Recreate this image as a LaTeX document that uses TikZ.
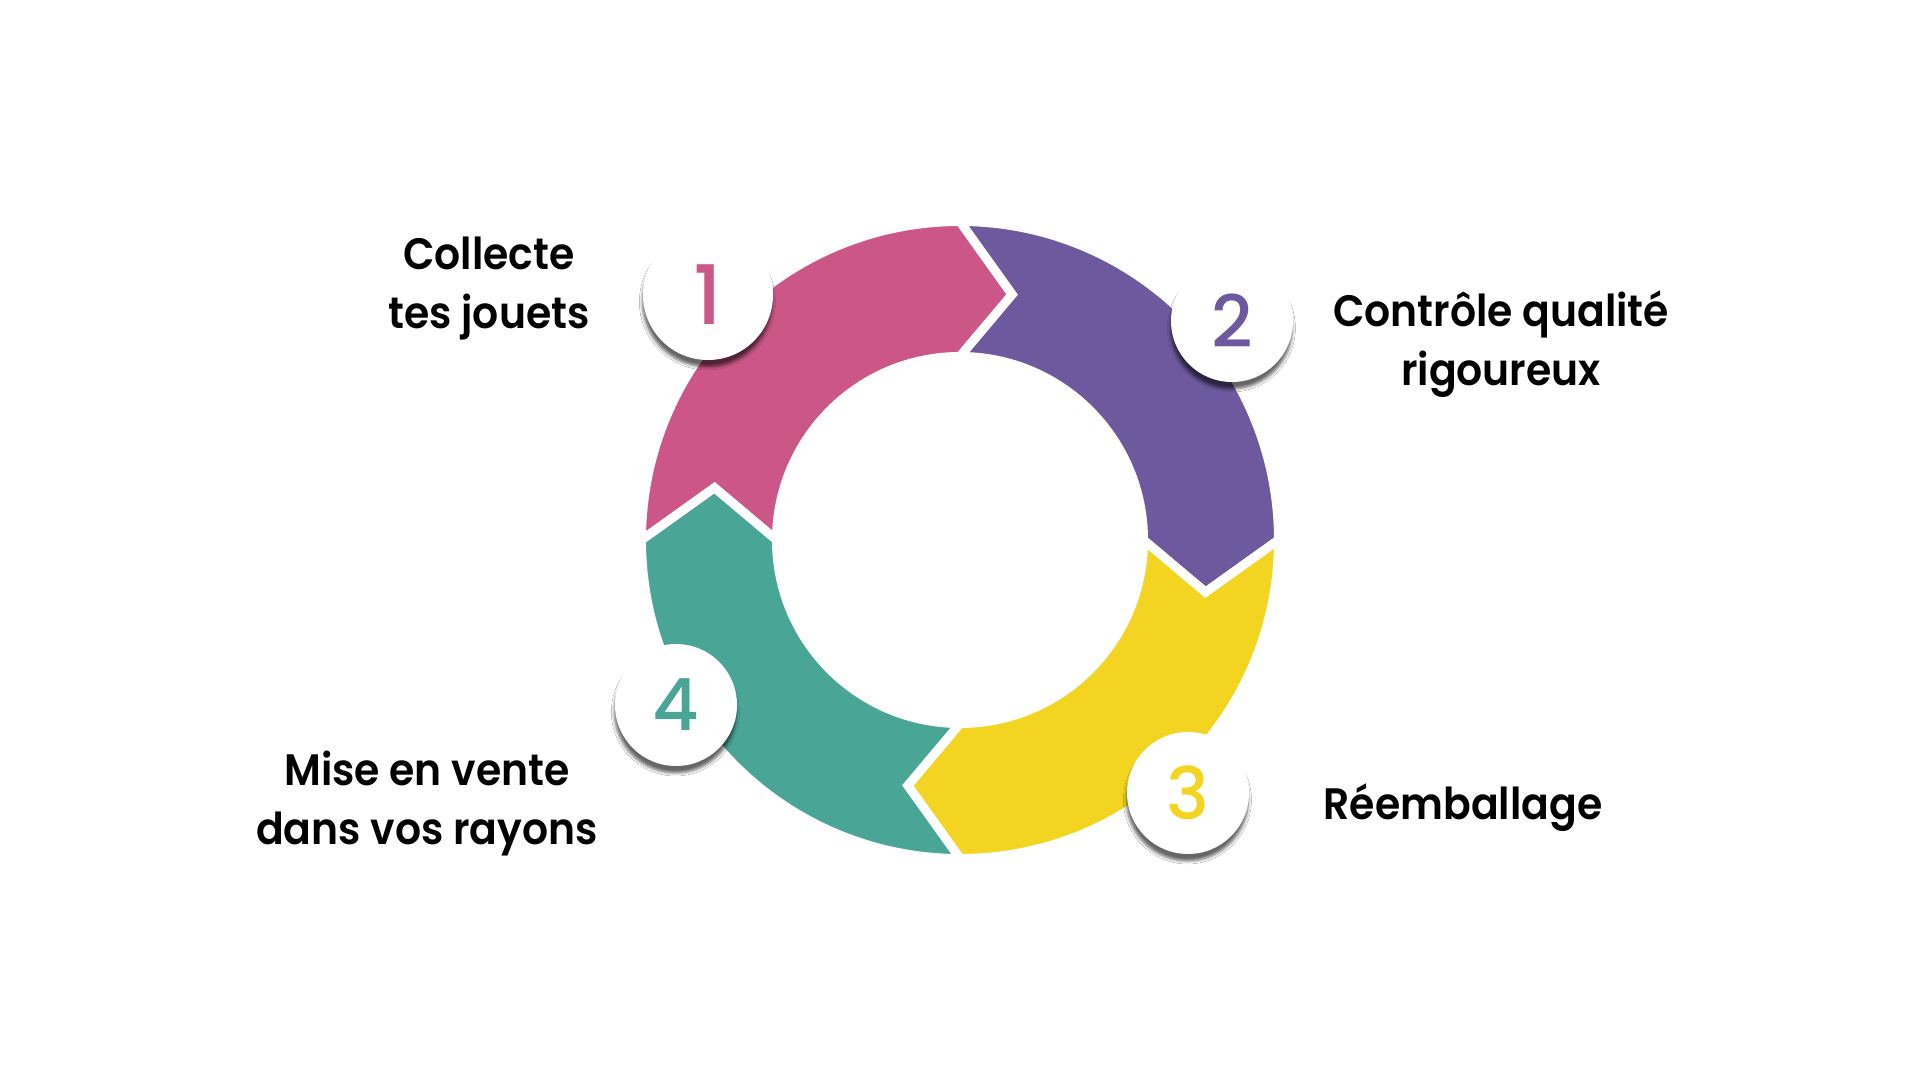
\documentclass[tikz,border=0pt]{standalone}
\usepackage{fontspec}
\setmainfont{Poppins}
\newfontfamily\labfont{Poppins}[UprightFont=* SemiBold, FakeStretch=0.93]
\newfontfamily\numfont{Poppins}[UprightFont=* Medium]
\usetikzlibrary{shadows.blur}
\definecolor{cpink}{RGB}{204,86,135}
\definecolor{cpurple}{RGB}{110,89,158}
\definecolor{cyellow}{RGB}{243,212,32}
\definecolor{cteal}{RGB}{73,166,151}
\tikzset{
  seg/.style={draw=white, line width=4.5pt, line join=miter},
  lab/.style={font=\labfont\fontsize{22pt}{26pt}\selectfont, anchor=base, text=black, inner sep=0pt},
  badge/.style={circle, fill=white, inner sep=0pt,
    blur shadow={shadow xshift=-0.3pt, shadow yshift=-3.5pt, shadow blur radius=1.5pt, shadow opacity=60}},
  bignum/.style={font=\numfont\fontsize{41pt}{41pt}\selectfont},
  smallnum/.style={font=\numfont\fontsize{36pt}{36pt}\selectfont}
}
\begin{document}
\begin{tikzpicture}[x=0.5pt,y=0.5pt]
\fill[white] (-960,-540) rectangle (960,540);
\useasboundingbox (-960,-540) rectangle (960,540);
% ring segments
\foreach \s/\c in {180/cpink, 90/cpurple, 0/cyellow, -90/cteal}{
  \filldraw[seg, fill=\c] (\s:318.5) arc[start angle=\s, end angle={\s-90}, radius=318.5]
     -- ({\s-102}:251) -- ({\s-90}:183.5)
     arc[start angle={\s-90}, end angle=\s, radius=183.5]
     -- ({\s-12}:251) -- cycle;
}
% badges
\node[badge, minimum size=65pt, bignum, text=cpink] (b1) at (-252,245) {1};
\node[badge, minimum size=61pt, smallnum, text=cpurple] (b2) at (272,219) {2};
\node[badge, minimum size=61pt, smallnum, text=cyellow] (b3) at (228,-253) {3};
\node[badge, minimum size=61pt, smallnum, text=cteal] (b4) at (-284,-165) {4};
% labels
\node[lab] (l1a) at (-471,270) {Collecte};
\node[lab] (l1b) at (-471,211) {tes jouets};
\node[lab] (l2a) at (541,213) {Contrôle qualité};
\node[lab] (l2b) at (541,154) {rigoureux};
\node[lab] (l3) at (503,-279) {Réemballage};
\node[lab] (l4a) at (-533,-246) {Mise en vente};
\node[lab] (l4b) at (-533,-305) {dans vos rayons};
\end{tikzpicture}
\end{document}
